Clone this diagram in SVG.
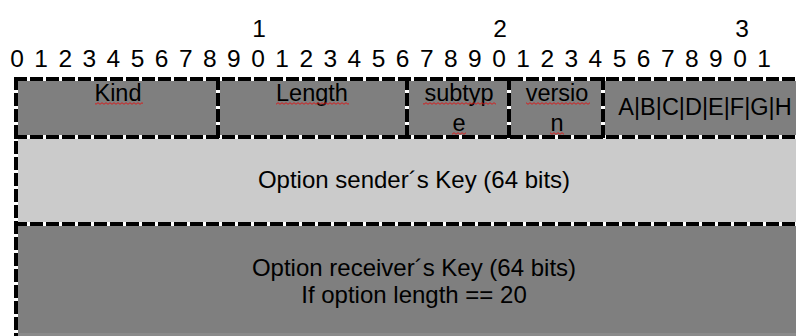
<svg xmlns="http://www.w3.org/2000/svg" width="796" height="336" viewBox="0 0 796 336">
  <style>
    text { font-family: "Liberation Sans", Arial, sans-serif; fill: #000; }
    .bit { font-size: 24.5px; text-anchor: middle; }
    .lbl { font-size: 23.5px; text-anchor: middle; }
    .key { font-size: 24px; text-anchor: middle; }
    .dark { fill: #7f7f7f; }
    .light { fill: #cbcbcb; }
    .under { stroke: #ffffff; stroke-width: 4; fill: none; }
    .edge { stroke: #000000; stroke-width: 4; fill: none; stroke-dasharray: 13 3; }
    .spell { fill: url(#squiggle); }
  </style>
  <defs>
    <!-- red wavy spell-check underline -->
    <pattern id="squiggle" patternUnits="userSpaceOnUse" x="0" y="0" width="4" height="3">
      <polyline points="0,2.3 2,0.7 4,2.3" fill="none" stroke="#e01010" stroke-width="0.9"/>
    </pattern>
  </defs>

  <!-- bit ruler -->
  <g id="ruler">
    <text class="bit" x="259" y="37">1</text>
    <text class="bit" x="500" y="37">2</text>
    <text class="bit" x="742" y="37">3</text>
    <text class="bit" x="17" y="67">0</text>
    <text class="bit" x="41.1" y="67">1</text>
    <text class="bit" x="65.2" y="67">2</text>
    <text class="bit" x="89.3" y="67">3</text>
    <text class="bit" x="113.4" y="67">4</text>
    <text class="bit" x="137.5" y="67">5</text>
    <text class="bit" x="161.6" y="67">6</text>
    <text class="bit" x="185.7" y="67">7</text>
    <text class="bit" x="209.8" y="67">8</text>
    <text class="bit" x="233.9" y="67">9</text>
    <text class="bit" x="258" y="67">0</text>
    <text class="bit" x="282.1" y="67">1</text>
    <text class="bit" x="306.2" y="67">2</text>
    <text class="bit" x="330.3" y="67">3</text>
    <text class="bit" x="354.4" y="67">4</text>
    <text class="bit" x="378.5" y="67">5</text>
    <text class="bit" x="402.6" y="67">6</text>
    <text class="bit" x="426.7" y="67">7</text>
    <text class="bit" x="450.8" y="67">8</text>
    <text class="bit" x="474.9" y="67">9</text>
    <text class="bit" x="499" y="67">0</text>
    <text class="bit" x="523.1" y="67">1</text>
    <text class="bit" x="547.2" y="67">2</text>
    <text class="bit" x="571.3" y="67">3</text>
    <text class="bit" x="595.4" y="67">4</text>
    <text class="bit" x="619.5" y="67">5</text>
    <text class="bit" x="643.6" y="67">6</text>
    <text class="bit" x="667.7" y="67">7</text>
    <text class="bit" x="691.8" y="67">8</text>
    <text class="bit" x="715.9" y="67">9</text>
    <text class="bit" x="740" y="67">0</text>
    <text class="bit" x="764.1" y="67">1</text>
  </g>

  <!-- field backgrounds -->
  <g id="fills">
    <rect class="dark" x="16" y="79" width="800" height="58"/>
    <rect class="light" x="16" y="137" width="800" height="87"/>
    <rect class="dark" x="16" y="224" width="800" height="109"/>
    <rect x="16" y="333" width="800" height="3" fill="#8a8a8a"/>
  </g>

  <g id="kind">
    <text class="lbl" x="118" y="101">Kind</text>
    <rect class="spell" x="95" y="102" width="48" height="3"/>
  </g>
  <g id="length">
    <text class="lbl" x="312" y="101">Length</text>
    <rect class="spell" x="276" y="102" width="73" height="3"/>
  </g>
  <g id="subtype">
    <text class="lbl" x="459" y="101">subtyp</text>
    <text class="lbl" x="459" y="131">e</text>
    <rect class="spell" x="423" y="102" width="73" height="3"/>
    <rect class="spell" x="452" y="132" width="14" height="3"/>
  </g>
  <g id="version">
    <text class="lbl" x="557" y="101">versio</text>
    <text class="lbl" x="557" y="131">n</text>
    <rect class="spell" x="526" y="102" width="64" height="3"/>
    <rect class="spell" x="550" y="132" width="14" height="3"/>
  </g>
  <g id="flags">
    <text class="lbl" x="705" y="115">A|B|C|D|E|F|G|H</text>
  </g>
  <g id="sender-key">
    <text class="key" x="414" y="188">Option sender´s Key (64 bits)</text>
  </g>
  <g id="receiver-key">
    <text class="key" x="414" y="276">Option receiver´s Key (64 bits)</text>
    <text class="key" x="414" y="303">If option length == 20</text>
  </g>

  <!-- dashed field borders: white base with black dashes on top -->
  <g id="borders">
    <path class="under" d="M14,79 H816 M14,137 H816 M14,224 H816 M16,77 V336 M218,77 V139 M407,77 V139 M509,77 V139 M603,77 V139"/>
    <path class="edge" d="M14,79 H816 M14,137 H816 M14,224 H816"/>
    <path class="edge" d="M16,77 V336 M218,77 V139 M407,77 V139 M509,77 V139 M603,77 V139"/>
  </g>
</svg>
